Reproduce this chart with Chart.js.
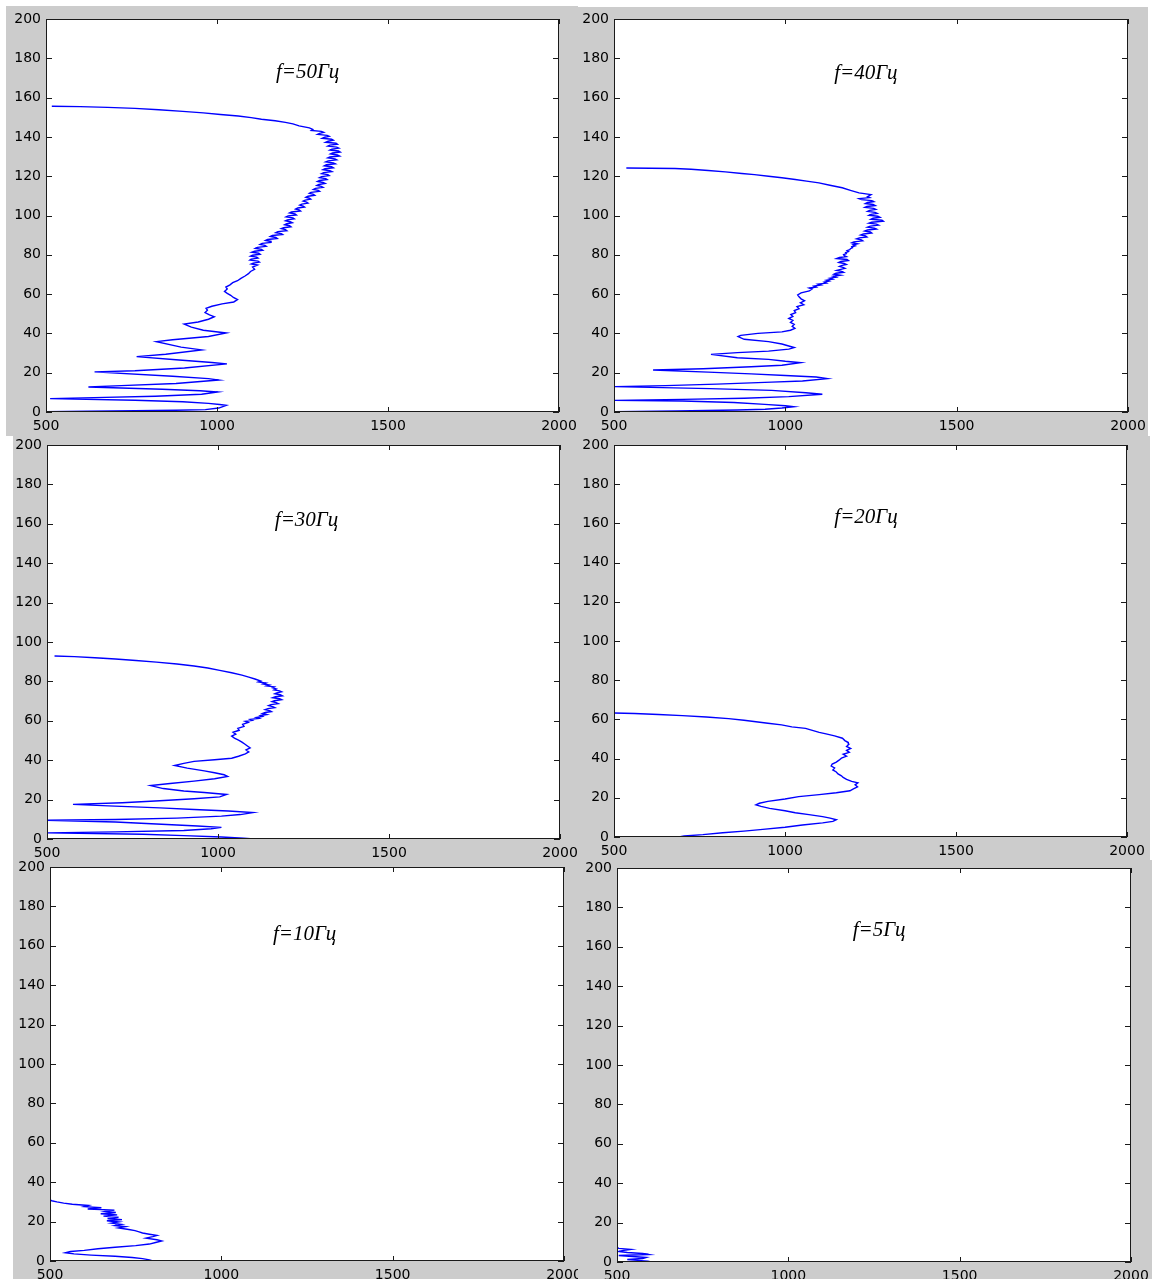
<!DOCTYPE html>
<html>
<head>
<meta charset="utf-8">
<title>Профили</title>
<script src="https://cdn.jsdelivr.net/npm/chart.js@4.4.1/dist/chart.umd.min.js"></script>
<style>
  html, body { margin: 0; padding: 0; background: #ffffff; }
  body { position: relative; width: 1161px; height: 1279px; overflow: hidden; }
  canvas { position: absolute; }
</style>
</head>
<body>
<script>
// ---- profile data: [depth (vertical axis), value (horizontal axis)] ----

// f = 50 Hz
const profile50 = [
  [0.0,870],[0.15,500],[0.35,620],[0.6,760],[0.9,880],[1.2,966],[2.0,1005],[3.4,1027],[3.8,1008],[4.4,975],[5.2,900],[6.0,760],
  [6.8,512],[7.3,640],[8.0,820],[9.0,955],[10.2,1002],[10.8,950],[11.6,840],[12.7,624],[13.4,720],[14.5,880],
  [16.3,1005],[17.0,975],[18.2,870],[20.4,642],[21.0,760],[22.4,905],[24.5,1029],[25.2,985],[26.6,880],[28.2,765],
  [29.4,850],[31.6,955],[33.0,895],[35.8,823],[36.8,870],[38.4,975],[40.2,1027],[41.6,960],[43.2,925],[44.7,904],
  [45.8,945],[47.2,975],[48.5,992],[49.4,978],[50.6,965],[51.8,972],[52.8,968],[53.8,985],[55.0,1015],[56.0,1049],
  [57.2,1060],[58.3,1048],[59.4,1040],[60.4,1030],[61.4,1022],[62.6,1030],[63.6,1026],[64.7,1038],[65.8,1046],[66.8,1060],
  [68.0,1070],[69.2,1082],[70.4,1092],[71.5,1098],[72.6,1110],[73.8,1104],
  [74.8,1118],[75.3,1100],[75.8,1106],[76.3,1124],[76.8,1120],[77.3,1096],[77.8,1100],[78.3,1120],[78.8,1116],[79.3,1098],
  [79.8,1104],[80.3,1126],[80.8,1122],[81.3,1102],[81.8,1110],[82.3,1134],[82.8,1130],[83.3,1112],[83.8,1118],[84.3,1144],
  [84.8,1140],[85.3,1126],[85.8,1132],[86.3,1160],[86.8,1158],[87.3,1142],[87.8,1148],[88.3,1176],[88.8,1172],[89.3,1156],
  [89.8,1162],[90.3,1192],[90.8,1188],[91.3,1172],[91.8,1178],[92.3,1204],[92.8,1200],[93.3,1188],[93.8,1195],[94.3,1216],
  [94.8,1212],[95.3,1198],[95.8,1204],[96.3,1220],[96.8,1214],[97.3,1200],[97.8,1206],[98.3,1226],[98.8,1222],[99.3,1202],
  [99.8,1208],[100.3,1232],[100.8,1228],[101.3,1212],[101.8,1218],[102.3,1244],[102.8,1240],[103.3,1230],[103.8,1236],[104.3,1256],
  [104.8,1252],[105.3,1242],[105.8,1248],[106.3,1266],[106.8,1262],[107.3,1252],[107.8,1258],[108.3,1274],[108.8,1270],[109.3,1260],
  [109.8,1266],[110.3,1286],[110.8,1282],[111.3,1270],[111.8,1275],[112.3,1300],[112.8,1296],[113.3,1282],[113.8,1288],[114.3,1310],
  [114.8,1305],[115.3,1292],[115.8,1298],[116.3,1316],[116.8,1310],[117.3,1294],[117.8,1300],[118.3,1322],[118.8,1318],[119.3,1300],
  [119.8,1306],[120.3,1328],[120.8,1324],[121.3,1306],[121.8,1312],[122.3,1336],[122.8,1330],[123.3,1310],[123.8,1316],[124.3,1340],
  [124.8,1335],[125.3,1314],[125.8,1320],[126.3,1346],[126.8,1340],[127.3,1318],[127.8,1325],[128.3,1350],[128.8,1345],[129.3,1324],
  [129.8,1330],[130.3,1358],[130.8,1352],[131.3,1332],[131.8,1338],[132.3,1360],[132.8,1355],[133.3,1330],[133.8,1336],[134.3,1356],
  [134.8,1350],[135.3,1324],[135.8,1330],[136.3,1352],[136.8,1348],[137.3,1318],[137.8,1325],[138.3,1340],[138.8,1335],[139.3,1308],
  [139.8,1315],[140.3,1328],[140.8,1322],[141.3,1294],[141.8,1300],[142.3,1312],[142.8,1305],[143.3,1276],[143.8,1280],
  [144.6,1270],[145.6,1240],[146.6,1222],[147.4,1200],[148.2,1170],[149.0,1130],[149.8,1100],[150.6,1062],[151.4,1010],[152.2,960],
  [153.0,900],[153.8,830],[154.5,760],[155.0,680],[155.4,600],[155.6,517]
];

// f = 40 Hz
const profile40 = [
  [0.2,502],[0.5,680],[1.0,860],[1.4,941],[2.0,990],[2.7,1025],[3.2,1000],[3.9,940],[4.8,850],[5.6,700],
  [5.9,502],[6.4,700],[7.0,880],[7.8,1010],[9.0,1108],[9.8,1060],[11.0,960],[11.9,780],[12.9,502],[13.4,650],
  [14.2,800],[15.2,960],[15.8,1050],[17.0,1122],[17.8,1090],[18.6,1000],[19.4,900],[20.3,775],[21.4,614],[22.0,760],
  [23.0,900],[23.8,990],[25.1,1044],[25.8,1000],[26.8,951],[27.6,860],[29.3,783],[30.2,860],[31.0,951],[32.0,1010],
  [32.8,1026],[33.6,1010],[34.6,990],[35.8,951],[37.0,880],[38.4,862],[39.0,870],[40.0,920],[40.8,990],[41.6,1015],
  [42.6,1028],[43.6,1020],[44.6,1026],[45.6,1015],[46.6,1022],[47.6,1010],[48.6,1022],[49.6,1016],[50.6,1030],[51.6,1026],
  [52.6,1040],[53.6,1034],[54.6,1054],[55.6,1044],[56.6,1056],[57.6,1046],[58.6,1040],[59.6,1036],[60.6,1046],[61.6,1070],
  [62.6,1078],[63.1,1070],[63.6,1090],[64.1,1084],[64.6,1104],[65.1,1096],[65.6,1120],[66.1,1114],[66.6,1128],[67.1,1120],
  [67.6,1138],[68.1,1130],[68.6,1148],[69.1,1140],[69.6,1160],[70.1,1142],[70.6,1148],[71.1,1170],[71.6,1164],[72.1,1150],
  [72.6,1162],[73.1,1174],[73.6,1168],[74.1,1158],[74.6,1166],[75.1,1178],[75.6,1172],[76.1,1156],[76.6,1162],[77.1,1184],
  [77.6,1180],[78.1,1150],[78.6,1158],[79.1,1178],[79.6,1172],[80.1,1170],[80.6,1178],[81.1,1176],[81.6,1184],[82.1,1180],
  [82.6,1188],[83.1,1190],[83.6,1196],[84.1,1194],[84.6,1204],[85.1,1198],[85.6,1210],[86.1,1194],[86.6,1200],[87.1,1226],
  [87.6,1222],[88.1,1208],[88.6,1216],[89.1,1238],[89.6,1234],[90.1,1220],[90.6,1228],[91.1,1252],[91.6,1248],[92.1,1232],
  [92.6,1240],[93.1,1266],[93.6,1260],[94.1,1240],[94.6,1248],[95.1,1272],[95.6,1266],[96.1,1244],[96.6,1252],[97.1,1286],
  [97.6,1282],[98.1,1250],[98.6,1256],[99.1,1276],[99.6,1270],[100.1,1244],[100.6,1250],[101.1,1268],[101.6,1262],[102.1,1240],
  [102.6,1246],[103.1,1264],[103.6,1258],[104.1,1232],[104.6,1238],[105.1,1262],[105.6,1256],[106.1,1234],[106.6,1240],[107.1,1258],
  [107.6,1252],[108.1,1222],[108.6,1215],[109.1,1246],[109.6,1240],
  [110.6,1250],[111.5,1215],[112.8,1190],[114.1,1166],[115.4,1130],[116.6,1098],[117.5,1062],[118.3,1029],[119.2,990],[120.0,951],
  [120.8,910],[121.4,873],[122.2,825],[122.9,775],[123.5,725],[123.9,678],[124.2,536]
];

// f = 30 Hz
const profile30 = [
  [0.0,1105],[0.4,1075],[1.0,1010],[1.7,900],[2.4,780],[3.1,500],[3.6,700],[4.3,900],[5.2,980],[5.9,1010],
  [6.6,940],[7.6,820],[8.6,700],[9.5,500],[9.9,700],[10.6,880],[11.6,1010],[12.4,1065],[13.4,1102],[14.2,1030],
  [15.0,930],[15.8,830],[16.8,680],[17.6,576],[18.4,720],[19.4,830],[20.4,930],[21.4,1005],[22.6,1025],[23.6,960],
  [24.4,900],[25.6,840],[27.1,803],[28.2,860],[29.4,930],[30.6,990],[31.8,1028],[32.6,1018],[33.6,990],[34.6,960],
  [36.0,910],[37.3,873],[38.4,900],[39.4,930],[40.2,990],[41.0,1040],[42.0,1060],[43.2,1080],
  [44.2,1090],[45.2,1082],[46.2,1094],[47.2,1086],[48.2,1078],[49.2,1070],[50.2,1060],[51.2,1048],[52.2,1040],[53.2,1052],
  [54.2,1044],[55.2,1062],[56.2,1058],[57.2,1076],[58.2,1072],
  [59.2,1088],[59.7,1080],[60.2,1100],[60.7,1094],[61.2,1120],[61.7,1112],[62.2,1130],[62.7,1124],[63.2,1142],[63.7,1130],
  [64.2,1138],[64.7,1156],[65.2,1150],[65.7,1138],[66.2,1146],[66.7,1166],[67.2,1160],[67.7,1148],[68.2,1155],[68.7,1176],
  [69.2,1170],[69.7,1158],[70.2,1165],[70.7,1186],[71.2,1180],[71.7,1160],[72.2,1168],[72.7,1188],[73.2,1182],[73.7,1166],
  [74.2,1172],[74.7,1186],[75.2,1180],[75.7,1164],[76.2,1170],[76.7,1160],[77.2,1165],[77.7,1142],[78.2,1150],[78.7,1132],
  [79.2,1140],[79.7,1118],[80.2,1125],
  [81.2,1108],[82.2,1090],[83.2,1070],[84.4,1040],[85.6,1005],[86.8,970],[87.8,930],[88.8,880],[89.8,820],[90.6,760],
  [91.4,700],[92.0,640],[92.6,580],[92.9,522]
];

// f = 20 Hz
const profile20 = [
  [0.0,690],[0.5,705],[1.2,760],[2.2,818],[3.0,880],[3.9,935],[5.0,1000],[6.1,1051],[7.2,1110],[8.0,1140],
  [8.8,1150],[9.6,1132],[10.4,1110],[11.4,1070],[12.4,1030],[13.4,1000],[14.6,955],[15.6,930],[16.4,915],[17.2,925],
  [18.2,950],[19.4,1000],[20.6,1040],[21.6,1100],[22.6,1150],[23.6,1190],[24.6,1200],[25.6,1212],[26.6,1205],[27.6,1213],
  [28.4,1195],[29.4,1180],[30.4,1170],[31.2,1165],[32.2,1155],[33.2,1150],[34.2,1140],[35.2,1145],[36.2,1135],[37.2,1138],
  [38.2,1150],[39.2,1158],[40.2,1165],[41.2,1180],[42.2,1170],[43.2,1188],[44.2,1180],[45.2,1192],[46.2,1180],[47.2,1186],
  [48.2,1185],[49.2,1175],[50.4,1168],[51.6,1145],[52.6,1120],[53.4,1100],[54.4,1080],[55.4,1060],[56.2,1020],[57.2,990],
  [58.0,950],[58.8,915],[59.6,880],[60.4,835],[61.2,770],[61.9,700],[62.5,630],[63.0,560],[63.3,500]
];

// f = 10 Hz
const profile10 = [
  [0.0,800],[0.6,790],[1.2,770],[1.8,740],[2.4,690],[3.0,620],[3.6,570],[4.2,545],[4.8,560],[5.4,600],
  [6.2,640],[7.0,690],[7.8,750],[8.6,790],[9.4,808],[10.2,826],[10.8,812],[11.6,780],[12.4,800],[13.0,812],
  [13.6,790],[14.2,770],[14.8,760],[15.4,748],[16.0,730],[16.8,700],[17.4,720],[18.0,690],[18.6,708],[19.2,680],
  [19.8,700],[20.4,666],[21.0,710],[21.6,668],[22.2,700],[22.8,656],[23.4,696],[24.0,648],[24.6,692],[25.2,662],
  [25.8,688],[26.4,610],[27.0,650],[27.6,600],[28.2,612],[28.8,565],[29.4,540],[30.0,520],[30.6,505],[31.0,500]
];

// f = 5 Hz
const profile5 = [
  [0.0,600],[0.4,590],[0.8,560],[1.3,530],[1.8,575],[2.3,585],[2.8,545],[3.3,505],[3.8,592],[4.3,575],
  [4.8,530],[5.3,505],[5.8,515],[6.4,540],[6.9,505],[7.4,500],[8.2,500]
];

// ---- axes ----
const xTickValues = [500, 1000, 1500, 2000];
const yTickValues = [0, 20, 40, 60, 80, 100, 120, 140, 160, 180, 200];
const captions = ['f=50Гц', 'f=40Гц', 'f=30Гц', 'f=20Гц', 'f=10Гц', 'f=5Гц'];

// ---- page layout of the six axes (figure box and plot box, page pixels) ----
const panels = [
  { profile: profile50, caption: captions[0], captionAt: [1265, 172.6], box: [6, 6, 578, 436],      area: [46, 19, 559, 412] },
  { profile: profile40, caption: captions[1], captionAt: [1235, 172.3], box: [578, 7, 1148, 436],   area: [614, 19, 1128, 412] },
  { profile: profile30, caption: captions[2], captionAt: [1259, 161.8], box: [13, 436, 578, 860],   area: [47, 445, 560, 839] },
  { profile: profile20, caption: captions[3], captionAt: [1237, 163.1], box: [578, 436, 1150, 860], area: [614, 445, 1127, 837] },
  { profile: profile10, caption: captions[4], captionAt: [1243, 165.5], box: [13, 860, 578, 1279],  area: [50, 867, 564, 1261] },
  { profile: profile5,  caption: captions[5], captionAt: [1265, 168.5], box: [578, 860, 1152, 1279], area: [617, 868, 1131, 1262] }
];

const EXT = 12;            // canvas margin around each figure box
const FIG_GRAY = '#cccccc';
const INK = '#000000';

function axesFrame(p) {
  return {
    id: 'axesFrame',
    beforeDraw(chart) {
      const { ctx, chartArea: a } = chart;
      ctx.save();
      ctx.fillStyle = FIG_GRAY;
      ctx.fillRect(EXT, EXT, p.box[2] - p.box[0], p.box[3] - p.box[1]);
      ctx.fillStyle = '#ffffff';
      ctx.fillRect(a.left, a.top, a.right - a.left, a.bottom - a.top);
      ctx.restore();
    },
    afterDraw(chart) {
      const { ctx, chartArea: a, scales: { x, y } } = chart;
      ctx.save();
      // inward tick marks on all four sides
      ctx.strokeStyle = '#1a1a1a';
      ctx.lineWidth = 1;
      ctx.beginPath();
      xTickValues.forEach(v => {
        const px = Math.round(x.getPixelForValue(v)) + 0.5;
        ctx.moveTo(px, a.bottom); ctx.lineTo(px, a.bottom - 5);
        ctx.moveTo(px, a.top); ctx.lineTo(px, a.top + 5);
      });
      yTickValues.forEach(v => {
        const py = Math.round(y.getPixelForValue(v)) + 0.5;
        ctx.moveTo(a.left, py); ctx.lineTo(a.left + 6, py);
        ctx.moveTo(a.right, py); ctx.lineTo(a.right - 6, py);
      });
      ctx.stroke();
      ctx.strokeRect(a.left + 0.5, a.top + 0.5, a.right - a.left - 1, a.bottom - a.top - 1);
      // frequency caption
      ctx.fillStyle = '#000000';
      ctx.font = 'italic 21px "Liberation Serif", "Times New Roman", serif';
      ctx.textAlign = 'center';
      ctx.textBaseline = 'middle';
      ctx.fillText(p.caption, x.getPixelForValue(p.captionAt[0]), y.getPixelForValue(p.captionAt[1]));
      ctx.restore();
    }
  };
}

panels.forEach((p, idx) => {
  const cLeft = p.box[0] - EXT, cTop = p.box[1] - EXT;
  const cW = p.box[2] - p.box[0] + 2 * EXT, cH = p.box[3] - p.box[1] + 2 * EXT;
  const canvas = document.createElement('canvas');
  canvas.id = 'profile' + idx;
  canvas.width = cW; canvas.height = cH;
  canvas.style.left = cLeft + 'px'; canvas.style.top = cTop + 'px';
  canvas.style.width = cW + 'px'; canvas.style.height = cH + 'px';
  document.body.appendChild(canvas);

  const areaL = p.area[0] - cLeft, areaT = p.area[1] - cTop;
  const areaR = p.area[2] - cLeft, areaB = p.area[3] - cTop;
  const points = p.profile.map(([depth, value]) => ({ x: value, y: depth }));
  const tickFont = { family: '"DejaVu Sans", sans-serif', size: 14 };

  new Chart(canvas, {
    type: 'scatter',
    data: {
      datasets: [{
        data: points,
        showLine: true,
        borderColor: '#0000ff',
        borderWidth: 1.4,
        pointRadius: 0,
        pointHoverRadius: 0,
        tension: 0,
        fill: false
      }]
    },
    options: {
      responsive: false,
      maintainAspectRatio: false,
      animation: false,
      events: [],
      devicePixelRatio: 1,
      layout: { padding: { left: 0, top: areaT, right: cW - areaR, bottom: 0 } },
      plugins: { legend: { display: false }, tooltip: { enabled: false } },
      scales: {
        x: {
          type: 'linear', position: 'bottom', min: 500, max: 2000,
          afterBuildTicks: s => { s.ticks = xTickValues.map(v => ({ value: v })); },
          grid: { display: false, drawTicks: false },
          border: { display: false },
          ticks: { color: INK, font: tickFont, padding: 6, maxRotation: 0, autoSkip: false, callback: v => String(v) },
          afterFit: s => { s.height = cH - areaB; }
        },
        y: {
          type: 'linear', position: 'left', min: 0, max: 200,
          afterBuildTicks: s => { s.ticks = yTickValues.map(v => ({ value: v })); },
          grid: { display: false, drawTicks: false },
          border: { display: false },
          ticks: { color: INK, font: tickFont, padding: 5, autoSkip: false, callback: v => String(v) },
          afterFit: s => { s.width = areaL; }
        }
      }
    },
    plugins: [axesFrame(p)]
  });
});
</script>
</body>
</html>
